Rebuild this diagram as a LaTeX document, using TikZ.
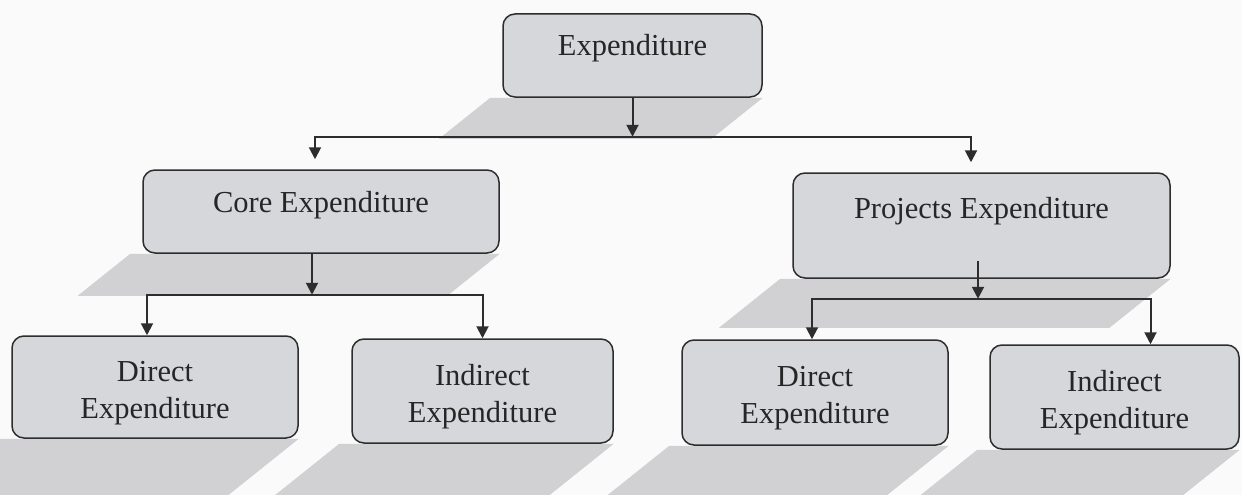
\documentclass[tikz,border=0pt]{standalone}
\usepackage{fontspec}
\setmainfont{Liberation Serif}
\usepackage{tikz}
\usetikzlibrary{arrows.meta}
\usetikzlibrary{positioning}
\usetikzlibrary{backgrounds}

\definecolor{boxgray}{RGB}{213,215,219}
\definecolor{shadegray}{RGB}{209,209,211}
\definecolor{linegray}{RGB}{45,45,45}
\definecolor{papergray}{RGB}{250,250,250}

\begin{document}
\begin{tikzpicture}[
		x=1pt, y=-1pt,
		>={Triangle[length=12pt,width=12pt]},
		on grid,
		main node/.style={
			draw=linegray,
			fill=boxgray,
			rounded corners=12pt,
			line width=1.5pt,
			text=black!85,
			font=\fontsize{30.5}{37}\selectfont,
			align=center,
			inner sep=0pt
		},
		single node/.style={
			main node,
			text height=20pt,
			text depth=20pt
		},
		double node/.style={
			main node,
			text height=69pt
		},
		flow/.style={->, draw=linegray, line width=2pt},
		floor shadow/.style={fill=shadegray}
		]
		
		\useasboundingbox (0,0) rectangle (1242,495);
		\clip (0,0) rectangle (1242,495);
		
		\node[single node, minimum width=259pt, minimum height=83pt] (top) at (632.5,55.5) {Expenditure};
		\node[single node, minimum width=356pt, minimum height=83pt, text depth=18pt] (core) [below left=156pt and 311.5pt of top] {Core Expenditure};
		\node[single node, minimum width=377pt, minimum height=105pt, text depth=35pt] (proj) [below right=170pt and 349pt of top] {Projects Expenditure};
		\node[double node, minimum width=286pt, minimum height=102pt] (ldir) [below left=175.5pt and 166pt of core] {Direct\\Expenditure};
		\node[double node, minimum width=261pt, minimum height=104pt] (lind) [below right=179.5pt and 161.5pt of core] {Indirect\\Expenditure};
		\node[double node, minimum width=266pt, minimum height=105pt] (rdir) [below left=167pt and 166.5pt of proj] {Direct\\Expenditure};
		\node[double node, minimum width=249pt, minimum height=104pt] (rind) [below right=171.5pt and 133pt of proj] {Indirect\\Expenditure};
		
		% shadows under the boxes
		\begin{scope}[on background layer]
			\fill[papergray] (0,0) rectangle (1242,495);
			\foreach \n/\d in {top/41,core/42,proj/49,ldir/70,lind/70,rdir/70,rind/70}
			\fill[floor shadow] ([xshift=-12pt]\n.south west) -- (\n.south east)
			-- ([xshift={-1.25*\d*1pt}, yshift={-\d*1pt}]\n.south east)
			-- ([xshift={-(12+1.25*\d)*1pt}, yshift={-\d*1pt}]\n.south west) -- cycle;
		\end{scope}
		
		\coordinate (fork0) at ([yshift=-39pt]top.south);
		\coordinate (fork1) at ([xshift=-9pt, yshift=-41pt]core.south);
		\coordinate (fork2) at ([xshift=-3.5pt, yshift=-20pt]proj.south);
		
		\draw[flow] (top.south) -- (fork0);
		\draw[flow, shorten >=10pt] (fork0) -| ([xshift=-6pt]core.north);
		\draw[flow, shorten >=10pt] (fork0) -| ([xshift=-10.5pt]proj.north);
		
		\draw[flow] ([xshift=-9pt]core.south) -- (fork1);
		\draw[flow] (fork1) -| ([xshift=-8pt]ldir.north);
		\draw[flow] (fork1) -| (lind.north);
		
		\draw[flow] ([xshift=-3.5pt, yshift=18pt]proj.south) -- (fork2);
		\draw[flow] (fork2) -| ([xshift=-3pt]rdir.north);
		\draw[flow] (fork2) -| ([xshift=36pt]rind.north);
	\end{tikzpicture}
\end{document}
